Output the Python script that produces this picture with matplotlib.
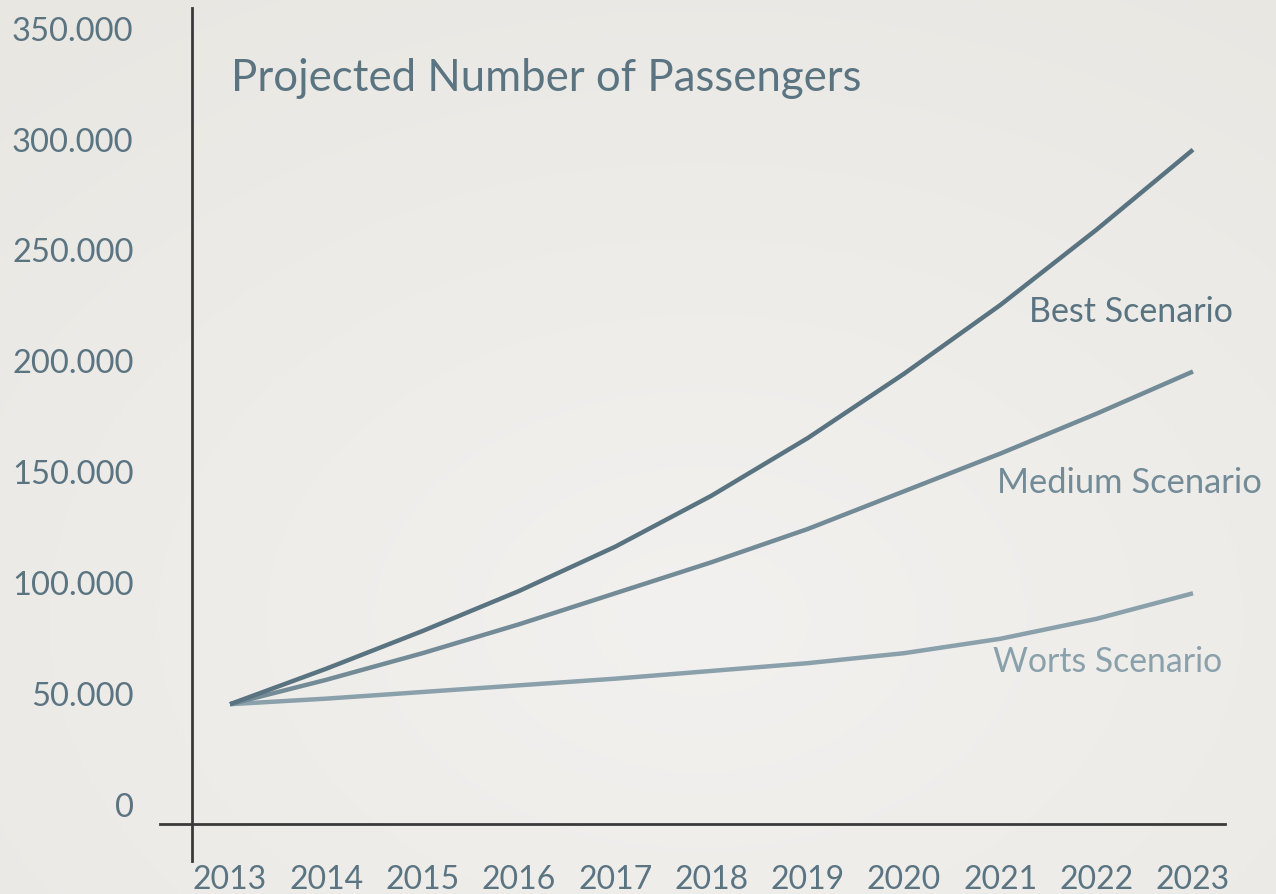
import numpy as np
import matplotlib
matplotlib.use("Agg")
import matplotlib.pyplot as plt
from matplotlib.lines import Line2D
from matplotlib.ticker import FuncFormatter

# ---------------- data ----------------
years = [2013, 2014, 2015, 2016, 2017, 2018, 2019, 2020, 2021, 2022, 2023]
best = [45000, 61000, 78000, 96000, 116000, 139000, 165000, 194000, 225000, 259000, 295000]
medium = [45000, 56000, 68000, 81000, 95000, 109000, 124000, 141000, 158000, 176000, 195000]
worst = [45000, 47500, 50500, 53500, 56500, 60000, 63500, 68000, 74500, 83500, 95000]
y_ticks = [0, 50000, 100000, 150000, 200000, 250000, 300000, 350000]
title = "Projected Number of Passengers"
series_labels = ["Best Scenario", "Medium Scenario", "Worts Scenario"]

# ---------------- style ----------------
W, H = 1276, 895
FONT = ["Lato", "DejaVu Sans"]
plt.rcParams["font.family"] = FONT
txt_col = "#5b7482"
c_best = "#5a7380"
c_med = "#738b97"
c_worst = "#8aa0ab"
axis_col = "#3a3a3a"

fig = plt.figure(figsize=(W / 100, H / 100), dpi=100)

# background radial gradient
bg = fig.add_axes([0, 0, 1, 1], zorder=-10)
yy, xx = np.mgrid[0:H, 0:W]
r = np.sqrt(((xx - 700) / W) ** 2 + ((yy - 620) / H) ** 2)
r = np.clip(r / 0.85, 0, 1)
c0 = np.array([0xf2, 0xf1, 0xef]) / 255
c1 = np.array([0xe8, 0xe7, 0xe2]) / 255
img = c0[None, None, :] * (1 - r[..., None]) + c1[None, None, :] * r[..., None]
bg.imshow(img, aspect="auto", extent=[0, 1, 0, 1])
bg.axis("off")

# main axes: pixel box x 192..1225, y 9..825
ax_l, ax_r, ax_t, ax_b = 192, 1225, 9, 825
ax = fig.add_axes([ax_l / W, 1 - ax_b / H, (ax_r - ax_l) / W, (ax_b - ax_t) / H])
ax.patch.set_alpha(0)

px_per_year = 96.3
x0_px = 230
ax.set_xlim(2013 - (x0_px - ax_l) / px_per_year, 2013 + (ax_r - x0_px) / px_per_year)
px_per_50k = 110.9
zero_px = 805
ax.set_ylim(-(ax_b - zero_px) / px_per_50k * 50000, (zero_px - ax_t) / px_per_50k * 50000)

for vals, col in [(worst, c_worst), (medium, c_med), (best, c_best)]:
    ax.plot(years, vals, color=col, lw=3.2, solid_capstyle="butt", solid_joinstyle="round")

for s in ax.spines.values():
    s.set_visible(False)

ax.set_yticks(y_ticks)
ax.yaxis.set_major_formatter(FuncFormatter(lambda v, p: f"{int(v):,}".replace(",", ".")))
ax.set_xticks(years)
ax.set_xticklabels([str(y) for y in years])
ax.tick_params(axis="y", length=0, pad=42, labelsize=23.5, labelcolor=txt_col)
ax.tick_params(axis="x", length=0, pad=29, labelsize=23, labelcolor=txt_col)

# axis lines (crossing)
fig.add_artist(Line2D([ax_l / W, ax_l / W], [1 - 862 / H, 1 - 9 / H], color=axis_col, lw=2.0))
fig.add_artist(Line2D([160 / W, 1225 / W], [1 - 825 / H, 1 - 825 / H], color=axis_col, lw=2.0))

# title
fig.text(231 / W, 1 - 91 / H, title, fontsize=31.5, color=txt_col, va="baseline", ha="left")

# scenario labels
fig.text(1029 / W, 1 - 322 / H, series_labels[0], fontsize=24.5, color=c_best, va="baseline", ha="left")
fig.text(997 / W, 1 - 493 / H, series_labels[1], fontsize=24.8, color=c_med, va="baseline", ha="left")
fig.text(993 / W, 1 - 672 / H, series_labels[2], fontsize=24.3, color=c_worst, va="baseline", ha="left")

fig.savefig("out.png", dpi=100)
